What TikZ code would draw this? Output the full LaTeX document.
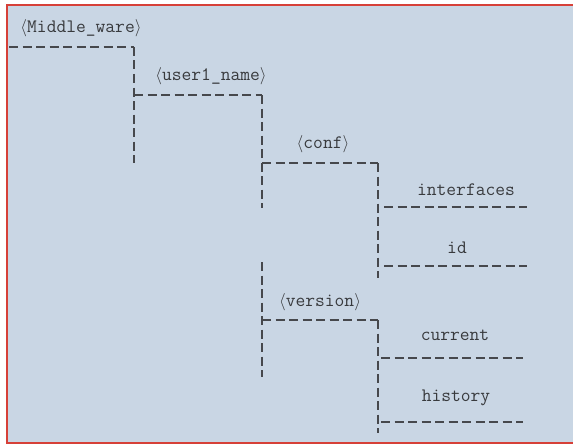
\documentclass[tikz,border=0pt]{standalone}
\usepackage{fontspec}
\usepackage{tikz}

\definecolor{panelblue}{RGB}{201,214,228}
\definecolor{framered}{RGB}{214,64,56}
\definecolor{treegray}{RGB}{70,72,76}

\tikzset{
  dir/.style={font=\ttfamily\fontsize{19}{22}\selectfont, text=treegray!80!black, inner sep=0pt},
  branch/.style={draw=treegray, line width=1.3pt, dash pattern=on 9pt off 4.5pt}
}
\newcommand{\lt}{$\langle$}
\newcommand{\gt}{$\rangle$}

\begin{document}
\begin{tikzpicture}
                        [x=1pt,y=-1pt]
                        \useasboundingbox (0,0) rectangle (573,444);
                        \fill[white] (0,0) rectangle (573,444);
                        \fill[panelblue] (7,5) rectangle (573,443);
                        \draw[framered, line width=2pt] (573,5) -- (7,5) -- (7,443) -- (573,443);
                        % folder names
                        \node[dir] (mw) at (81,28) {\lt Middle\_ware\gt};
                        \node[dir] (user) at (211,76) {\lt user1\_name\gt};
                        \node[dir] (conf) at (323,144) {\lt conf\gt};
                        \node[dir] (ifs) at (466,190) {interfaces};
                        \node[dir] (id) at (457,248) {id};
                        \node[dir] (ver) at (320,302) {\lt version\gt};
                        \node[dir] (cur) at (455,335) {current};
                        \node[dir] (hist) at (456,398) {history};
                        % corners of the tree
                        \coordinate (a1) at (9,47);
                        \coordinate (a2) at (134,47);
                        \coordinate (a3) at (134,163);
                        \coordinate (b1) at (134,95);
                        \coordinate (b2) at (262,95);
                        \coordinate (b3) at (262,208);
                        \coordinate (b4) at (262,262);
                        \coordinate (b5) at (262,377);
                        \coordinate (c1) at (262,163);
                        \coordinate (c2) at (378,163);
                        \coordinate (c3) at (378,278);
                        \coordinate (d1) at (384,207);
                        \coordinate (d2) at (527,207);
                        \coordinate (e1) at (384,266);
                        \coordinate (e2) at (527,266);
                        \coordinate (f1) at (262,320);
                        \coordinate (f2) at (378,320);
                        \coordinate (f3) at (378,433);
                        \coordinate (g1) at (381,358);
                        \coordinate (g2) at (523,358);
                        \coordinate (h1) at (381,422);
                        \coordinate (h2) at (523,422);
                        \foreach \from/\to in {a1/a2,a2/a3,b1/b2,b2/b3,b4/b5,c1/c2,c2/c3,d1/d2,e1/e2,f1/f2,f2/f3,g1/g2,h1/h2}
                        \draw[branch] (\from) -- (\to);
                    \end{tikzpicture}
\end{document}
